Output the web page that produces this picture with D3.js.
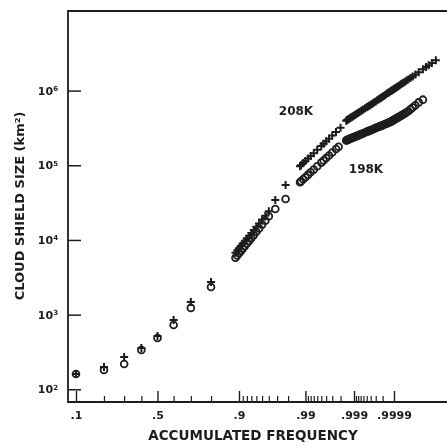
<!DOCTYPE html>
<html lang="en">

<head>
    <meta charset="UTF-8">
    <title>Cloud shield size</title>
    <script src="https://cdnjs.cloudflare.com/ajax/libs/d3/7.8.5/d3.min.js"></script>
    <style>
        body { margin: 0; background: #fff; }
        text { font-family: "DejaVu Sans", sans-serif; font-weight: bold; fill: #1e1e1e; }
    </style>
</head>

<body>
    <div id="chart"></div>
    <script>
        // tick labels
        var majorFreq = [.1, .5, .9, .99, .999, .9999];
        var majorLabels = ['.1', '.5', '.9', '.99', '.999', '.9999'];
        var minorFreq = [.2, .3, .4, .6, .7, .8,
            .91, .92, .93, .94, .95, .96, .97, .98,
            .991, .992, .993, .994, .995, .996, .997, .998,
            .9991, .9992, .9993, .9994, .9995, .9996, .9997, .9998];
        var sizeTicks = [1e2, 1e3, 1e4, 1e5, 1e6];

        // 198K (circles)
        var freq198 = [.1, .2, .3, .4, .5, .6, .7, .8,
            .89, .895, .9, .905, .91, .915, .92, .925, .93, .935, .94, .945, .95, .955, .96, .968, .978,
            .9875, .988, .989, .99, .991, .992, .993, .994, .995, .9955, .996, .9965, .997, .9975, .9978,
            .9985, .99855, .9986, .99865, .9987, .99875, .9988, .99885, .9989, .99895, .999, .99905,
            .9991, .99915, .9992, .99925, .9993, .99935, .9994, .99945, .9995, .999525, .99955, .999575,
            .9996, .999625, .99965, .999675, .9997, .999725, .99975, .9997625, .999775, .9997875, .9998,
            .9998125, .999825, .9998375, .99985, .9998575, .999865, .9998725, .99988, .999885, .99989,
            .999895, .9999, .999905, .99991, .999915, .99992, .999925, .99993, .999935, .99994, .999945,
            .99995, .999955, .99996, .999965, .99997, .999975, .99998, .999985];
        var size198 = [160, 181, 218, 336, 486, 726, 1230, 2340,
            5780, 6180, 6630, 7090, 7660, 8220, 8940, 9710, 10590, 11610, 12850, 14280, 16060, 18060, 20750, 26000, 35400,
            59400, 61100, 64900, 69200, 74300, 80500, 87500, 96900, 108600, 116000, 125000, 135000, 148000, 165000, 177000,
            215000, 217000, 219000, 221000, 223000, 225500, 228000, 230500, 233000, 235500, 238000, 241000,
            244000, 247500, 251000, 255000, 259000, 264000, 269000, 275000, 281000, 284000, 287000, 291000,
            295000, 299500, 304000, 309500, 315000, 321500, 328000, 331500, 335000, 339500, 344000,
            349000, 354000, 360000, 366000, 370000, 374000, 379500, 385000, 389500, 394000,
            400500, 407000, 413000, 419000, 425500, 432000, 441000, 450000, 460000, 470000, 482000,
            495000, 512000, 530000, 561000, 593000, 638000, 695000, 756000];

        // 208K (crosses)
        var freq208 = [.1, .2, .3, .4, .5, .6, .7, .8,
            .89, .895, .9, .905, .91, .915, .92, .925, .93, .935, .94, .945, .95, .955, .96, .968, .978,
            .9875, .988, .989, .99, .991, .992, .993, .994, .995, .9955, .996, .9965, .997, .9975, .998,
            .9985, .99855, .9986, .99865, .9987, .99875, .9988, .99885, .9989, .99895, .999, .99905,
            .9991, .99915, .9992, .99925, .9993, .99935, .9994, .99945, .9995, .999525, .99955, .999575,
            .9996, .999625, .99965, .999675, .9997, .999725, .99975, .9997625, .999775, .9997875, .9998,
            .9998125, .999825, .9998375, .99985, .9998575, .999865, .9998725, .99988, .999885, .99989,
            .999895, .9999, .999905, .99991, .999915, .99992, .999925, .99993, .999935, .99994, .999945,
            .99995, .999955, .99996, .999965, .99997, .999975, .99998, .999985, .999988, .99999, .999992, .999994];
        var size208 = [160, 199, 271, 357, 517, 847, 1476, 2735,
            6750, 7210, 7740, 8270, 8940, 9590, 10430, 11330, 12360, 13550, 15000, 16660, 18740, 21080, 24210, 34350, 54600,
            97300, 100000, 107000, 114000, 123000, 133000, 145000, 161000, 181000, 194000, 209000, 227000, 250000, 278000, 319000,
            396000, 401000, 406000, 412000, 418000, 425000, 432000, 439000, 446000, 454000, 463000, 472000,
            482000, 492000, 503000, 516000, 530000, 545000, 560000, 579000, 598000, 609000, 620000, 633000,
            647000, 663000, 679000, 698000, 717000, 741000, 765000, 779000, 794000, 811000, 829000,
            848000, 868000, 893000, 918000, 934000, 950000, 969000, 989000, 1003000, 1017000,
            1034000, 1051000, 1069000, 1087000, 1107000, 1128000, 1155000, 1182000, 1212000, 1242000, 1278000,
            1316000, 1364000, 1413000, 1480000, 1550000, 1643000, 1765000, 1931000, 2065000, 2183000, 2337000, 2541000];

        var width = 447, height = 448;
        var plotLeft = 68, plotTop = 11, plotBottom = 402;
        var ink = '#1e1e1e';

        // inverse normal cdf (Acklam) for the probability paper
        function probit(p) {
            var a = [-3.969683028665376e+01, 2.209460984245205e+02, -2.759285104469687e+02, 1.383577518672690e+02, -3.066479806614716e+01, 2.506628277459239e+00];
            var b = [-5.447609879822406e+01, 1.615858368580409e+02, -1.556989798598866e+02, 6.680131188771972e+01, -1.328068155288572e+01];
            var c = [-7.784894002430293e-03, -3.223964580411365e-01, -2.400758277161838e+00, -2.549732539343734e+00, 4.374664141464968e+00, 2.938163982698783e+00];
            var d = [7.784695709041462e-03, 3.224671290700398e-01, 2.445134137142996e+00, 3.754408661907416e+00];
            var q, r;
            if (p < 0.02425) {
                q = Math.sqrt(-2 * Math.log(p));
                return (((((c[0] * q + c[1]) * q + c[2]) * q + c[3]) * q + c[4]) * q + c[5]) / ((((d[0] * q + d[1]) * q + d[2]) * q + d[3]) * q + 1);
            }
            if (p > 1 - 0.02425) {
                q = Math.sqrt(-2 * Math.log(1 - p));
                return -(((((c[0] * q + c[1]) * q + c[2]) * q + c[3]) * q + c[4]) * q + c[5]) / ((((d[0] * q + d[1]) * q + d[2]) * q + d[3]) * q + 1);
            }
            q = p - 0.5;
            r = q * q;
            return (((((a[0] * r + a[1]) * r + a[2]) * r + a[3]) * r + a[4]) * r + a[5]) * q / (((((b[0] * r + b[1]) * r + b[2]) * r + b[3]) * r + b[4]) * r + 1);
        }

        var z = d3.scaleLinear()
            .domain([probit(.1), probit(.9999)])
            .range([76, 394]);
        var x = p => z(probit(p));
        var y = d3.scaleLog()
            .domain([1e2, 1e6])
            .range([389.3, 90.6]);

        var svg = d3.select('#chart')
            .append('svg')
            .attr('width', width)
            .attr('height', height);

        // soft edge like the scanned original
        svg.append('defs')
            .append('filter')
            .attr('id', 'scan')
            .append('feGaussianBlur')
            .attr('stdDeviation', 0.5);
        var g = svg.append('g').attr('filter', 'url(#scan)');

        // frame
        g.append('path')
            .attr('d', `M${width},${plotTop}H${plotLeft}V${plotBottom}H${width}`)
            .attr('fill', 'none')
            .attr('stroke', ink)
            .attr('stroke-width', 1.8);

        // x ticks point up from the bottom line
        var xMajor = d3.axisBottom(z)
            .tickValues(majorFreq.map(probit))
            .tickSizeInner(-11)
            .tickSizeOuter(0)
            .tickPadding(7)
            .tickFormat((d, i) => majorLabels[i]);
        var gx = g.append('g')
            .attr('transform', `translate(0,${plotBottom})`)
            .call(xMajor);
        gx.select('.domain').remove();
        gx.selectAll('line').attr('stroke', ink).attr('stroke-width', 1.4);
        gx.selectAll('text')
            .attr('font-size', 11)
            .attr('font-family', null)
            .attr('fill', ink)
            .attr('dy', '0.9em');

        var xMinor = d3.axisBottom(z)
            .tickValues(minorFreq.map(probit))
            .tickSizeInner(-6)
            .tickSizeOuter(0)
            .tickFormat('');
        var gm = g.append('g')
            .attr('transform', `translate(0,${plotBottom})`)
            .call(xMinor);
        gm.select('.domain').remove();
        gm.selectAll('line').attr('stroke', ink).attr('stroke-width', 1.2);

        // y ticks point right
        var yAxis = d3.axisLeft(y)
            .tickValues(sizeTicks)
            .tickSizeInner(-13)
            .tickSizeOuter(0)
            .tickPadding(10)
            .tickFormat('');
        var gy = g.append('g')
            .attr('transform', `translate(${plotLeft},0)`)
            .call(yAxis);
        gy.select('.domain').remove();
        gy.selectAll('line').attr('stroke', ink).attr('stroke-width', 1.5);
        gy.selectAll('.tick text')
            .attr('font-size', 11)
            .attr('font-family', null)
            .attr('fill', ink)
            .each(function (d) {
                var t = d3.select(this);
                t.append('tspan').text('10');
                t.append('tspan')
                    .attr('font-size', 7)
                    .attr('dy', '-0.5em')
                    .text(Math.round(Math.log10(d)));
            });

        // axis titles
        g.append('text')
            .attr('x', 253)
            .attr('y', 440)
            .attr('text-anchor', 'middle')
            .attr('font-size', 13.5)
            .text('ACCUMULATED FREQUENCY');
        g.append('text')
            .attr('transform', 'translate(24,206) rotate(-90)')
            .attr('text-anchor', 'middle')
            .attr('font-size', 13)
            .text('CLOUD SHIELD SIZE (km²)');

        // series
        var pts198 = freq198.map((p, i) => [p, size198[i]]);
        var pts208 = freq208.map((p, i) => [p, size208[i]]);

        g.append('g')
            .selectAll('circle')
            .data(pts198)
            .enter()
            .append('circle')
            .attr('cx', d => x(d[0]))
            .attr('cy', d => y(d[1]))
            .attr('r', 3.4)
            .attr('fill', 'none')
            .attr('stroke', ink)
            .attr('stroke-width', 1.8);

        g.append('g')
            .selectAll('path')
            .data(pts208)
            .enter()
            .append('path')
            .attr('transform', d => `translate(${x(d[0])},${y(d[1])})`)
            .attr('d', 'M-4,0H4M0,-4V4')
            .attr('stroke', ink)
            .attr('stroke-width', 2);

        // series labels
        g.append('text')
            .attr('x', 296)
            .attr('y', 115)
            .attr('text-anchor', 'middle')
            .attr('font-size', 12)
            .text('208K');
        g.append('text')
            .attr('x', 366)
            .attr('y', 173)
            .attr('text-anchor', 'middle')
            .attr('font-size', 12)
            .text('198K');
    </script>
</body>

</html>
